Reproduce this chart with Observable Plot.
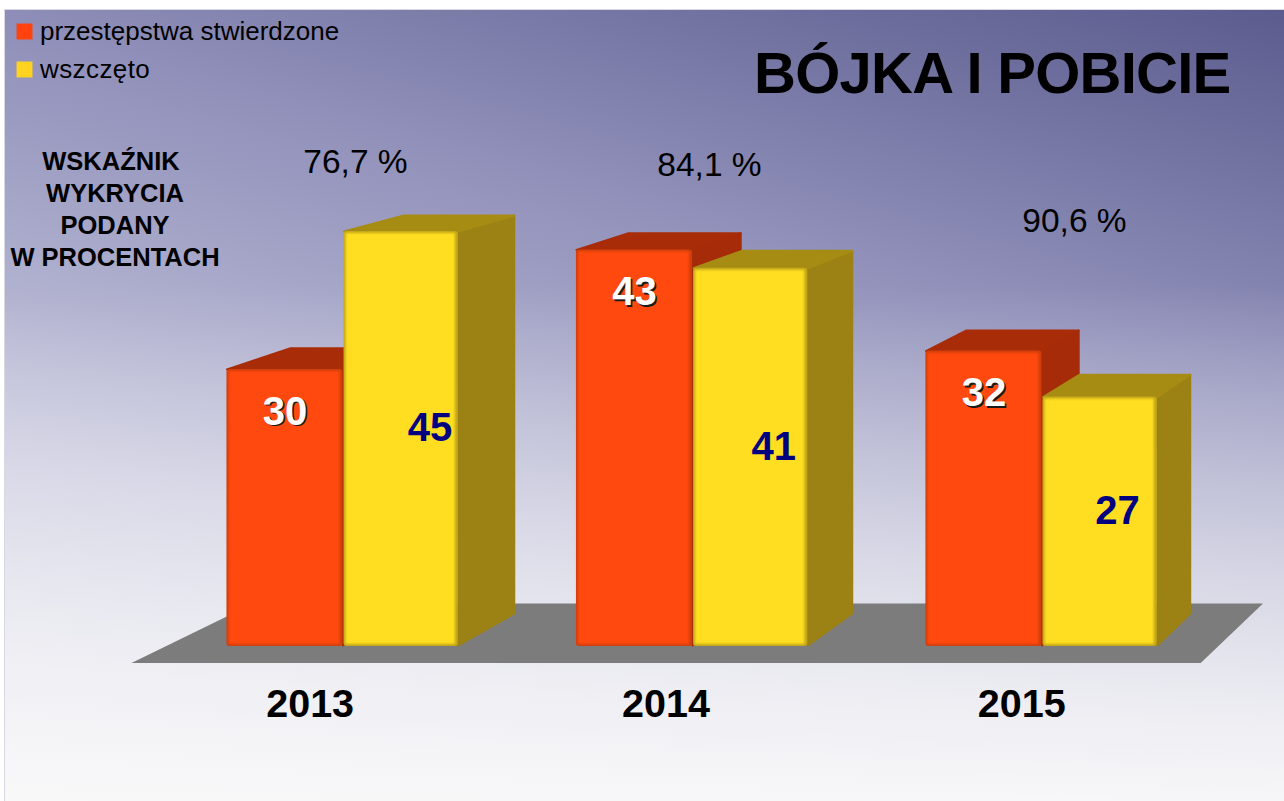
<!DOCTYPE html>
<html lang="pl">
<head>
<meta charset="utf-8">
<script src="https://cdn.jsdelivr.net/npm/d3@7"></script>
<script src="https://cdn.jsdelivr.net/npm/@observablehq/plot@0.6"></script>
<style>
html,body{margin:0;padding:0;background:#fff;width:1284px;height:801px;overflow:hidden}
#panel{position:absolute;left:4px;top:9px;width:1280px;height:792px;box-shadow:inset 1px 1px 0 #d8d8e4;
background:
 linear-gradient(180deg,rgba(250,250,250,0) 35%,rgba(250,250,250,.55) 72%,rgba(250,250,250,.93) 100%),
 linear-gradient(195deg,#5b5b8e 0%,#9090ba 32%,#c4c4dc 68%,#e2e2ee 100%);}
#chart{position:absolute;left:0;top:0}
svg{display:block}
.tight{letter-spacing:-0.75px}
.wide{letter-spacing:0.4px}
</style>
</head>
<body>
<div id="panel"></div>
<div id="chart"></div>
<script>
const years = [2013, 2014, 2015];
const crimes = [30, 43, 32];
const proceedings = [45, 41, 27];
const rates = ["76,7 %", "84,1 %", "90,6 %"];
const seriesNames = ["przestępstwa stwierdzone", "wszczęto"];
const title = "BÓJKA I POBICIE";
const note = ["WSKAŹNIK", "WYKRYCIA", "PODANY", "W PROCENTACH"];

const font = "'Liberation Sans', Arial, sans-serif";
const barW = 0.33;
const vp = {x: 2018.195, y: 90.1, tx: 0.0329, ty: 0.0386};
const proj = (x, v, d) => [x + (vp.x - x) * vp.tx * d, v + (vp.y - v) * vp.ty * d];

function faces(x1, x2, v, side, top) {
  const ftl = proj(x1, v, 0), ftr = proj(x2, v, 0), fbr = proj(x2, 0, 0);
  const btl = proj(x1, v, 1), btr = proj(x2, v, 1), bbr = proj(x2, 0, 1);
  const poly = (id, color, pts) => pts.map(p => ({id, color, x: p[0], y: p[1]}));
  return [...poly(`${x1}s`, side, [ftr, btr, bbr, fbr]), ...poly(`${x1}t`, top, [ftl, btl, btr, ftr])];
}

const orange = {front: "#ff490e", edge: "#cf3f0c", side: "#a62b08", top: "#a82c08"};
const yellow = {front: "#ffdd20", edge: "#c2a619", side: "#9c8214", top: "#a78c14"};
const oRows = years.map((yr, i) => ({yr, v: crimes[i], x1: yr - barW - 0.002, x2: yr}));
const yRows = years.map((yr, i) => ({yr, v: proceedings[i], x1: yr + 0.003, x2: yr + barW}));
const oFaces = oRows.flatMap(d => faces(d.x1, d.x2, d.v, orange.side, orange.top));
const yFaces = yRows.flatMap(d => faces(d.x1, d.x2, d.v, yellow.side, yellow.top));
const floorPts = [proj(2012.498, 0, -0.55), proj(2012.498, 0, 1.31), proj(2015.517, 0, 1.31), proj(2015.503, 0, -0.55)]
  .map(p => ({x: p[0], y: p[1]}));

const polygons = rows => Plot.line(rows, {x: "x", y: "y", z: "id", fill: "color", stroke: "color", strokeWidth: 2,
  strokeLinejoin: "round", curve: "linear-closed", imageFilter: "blur(0.5px)"});
const fronts = (rows, c) => [
  Plot.rect(rows, {x1: "x1", x2: "x2", y1: 0, y2: "v", fill: c.edge, rx: 3, insetBottom: -1, imageFilter: "blur(0.5px)"}),
  Plot.rect(rows, {x1: "x1", x2: "x2", y1: 0, y2: "v", fill: c.front, insetLeft: 2, insetRight: 3, insetTop: 2, insetBottom: 1, imageFilter: "blur(1.2px)"})
];
const common = {fontFamily: font, textAnchor: "middle", lineAnchor: "middle"};
const place = (text, dx, dy, o) => Plot.text([text], {frameAnchor: "top-left", dx, dy, lineAnchor: "bottom",
  fontFamily: font, fill: "#000", textAnchor: "start", ...o});

const chart = Plot.plot({
  width: 1284, height: 801, margin: 0,
  style: {background: "transparent", overflow: "visible"},
  x: {domain: [2012.02, 2015.694], range: [0, 1284], axis: null},
  y: {domain: [-16.96, 70.11], range: [801, 0], axis: null},
  marks: [
    Plot.line(floorPts, {x: "x", y: "y", fill: "#7c7c7c", stroke: "none", curve: "linear-closed"}),
    polygons(oFaces), ...fronts(oRows, orange),
    polygons(yFaces), ...fronts(yRows, yellow),

    // Values on the bars
    Plot.text(oRows, {...common, x: d => (d.x1 + d.x2) / 2, y: d => d.v - 4.6, text: d => String(d.v), fontSize: 40, fontWeight: "bold", fill: "#1a1a1a", dx: 1.5, dy: 1.5}),
    Plot.text(oRows, {...common, x: d => (d.x1 + d.x2) / 2, y: d => d.v - 4.6, text: d => String(d.v), fontSize: 40, fontWeight: "bold", fill: "#fff"}),
    Plot.text(yRows, {...common, x: d => proj((d.x1 + d.x2) / 2, 0, 0.5)[0], y: d => d.v / 2 + 1.1, text: d => String(d.v), fontSize: 40, fontWeight: "bold", fill: "#000080"}),

    // Year labels
    Plot.text(years, {...common, x: yr => proj(yr, 0, -0.55)[0], y: -6.4, text: String, fontSize: 39.5, fontWeight: "bold", fill: "#000"}),

    // Detection rates
    place(rates[0], 355, 172, {fontSize: 33.5, textAnchor: "middle"}),
    place(rates[1], 709, 175, {fontSize: 33.5, textAnchor: "middle"}),
    place(rates[2], 1074, 231, {fontSize: 33.5, textAnchor: "middle"}),

    // Title and side note
    place(title, 1230, 92, {fontSize: 58, fontWeight: "bold", textAnchor: "end", className: "tight"}),
    ...note.map((t, i) => place(t, i === 0 ? 110.5 : 114.5, 169.5 + i * 32, {fontSize: 25.5, fontWeight: "bold", textAnchor: "middle"})),

    // Legend
    Plot.dot([0], {frameAnchor: "top-left", dx: 24, dy: 31, symbol: "square", r: 9, fill: "#ff420e"}),
    Plot.dot([0], {frameAnchor: "top-left", dx: 24, dy: 69, symbol: "square", r: 9, fill: "#ffd320"}),
    place(seriesNames[0], 39.5, 39, {fontSize: 26}),
    place(seriesNames[1], 39.5, 77, {fontSize: 26, className: "wide"})
  ]
});
document.getElementById("chart").append(chart);
</script>
</body>
</html>
